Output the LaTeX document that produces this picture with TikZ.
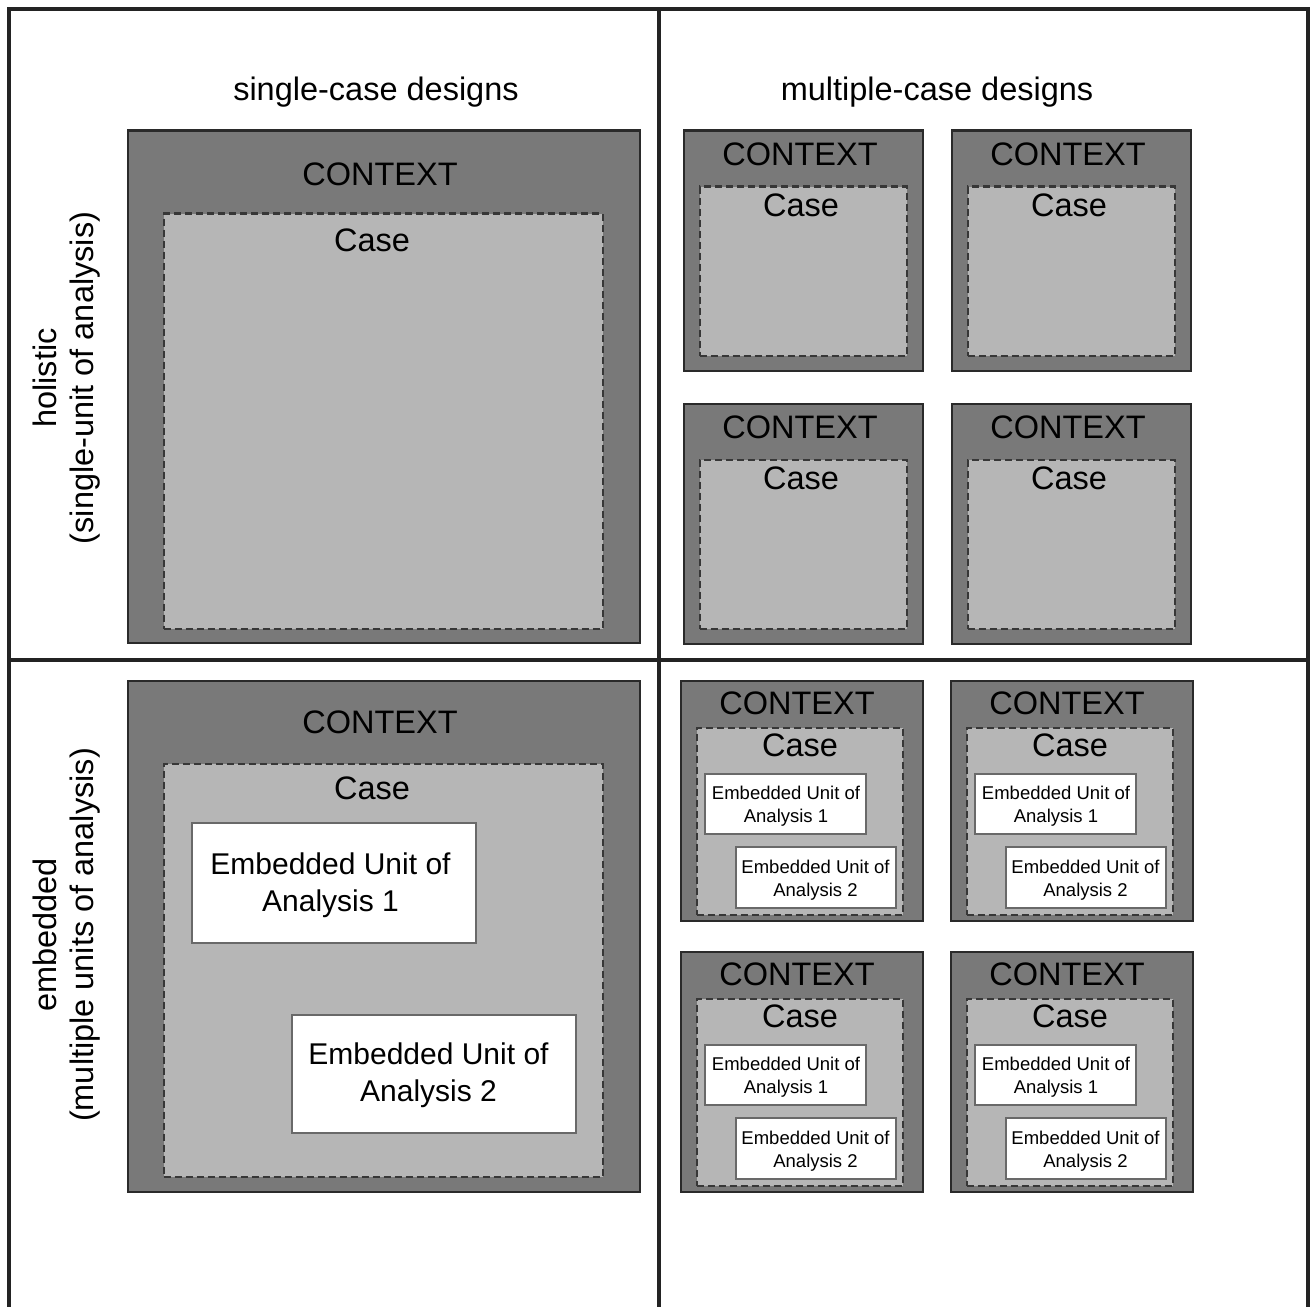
\documentclass[tikz,border=0pt]{standalone}
\usepackage{fontspec}
\setmainfont{Liberation Sans}
\definecolor{ctxfill}{RGB}{121,121,121}
\definecolor{casefill}{RGB}{182,182,182}
\definecolor{edge}{RGB}{42,42,42}
\definecolor{dashedge}{RGB}{55,55,55}
\definecolor{unitedge}{RGB}{105,105,105}
\definecolor{rulecol}{RGB}{35,35,35}

\tikzset{
  ctxbox/.style={draw=edge, fill=ctxfill, line width=2.5bp, anchor=north west, inner sep=0pt},
  casebox/.style={draw=dashedge, fill=casefill, line width=2.2bp, dash pattern=on 7bp off 4bp, anchor=north west, inner sep=0pt},
  unitbox/.style={draw=unitedge, fill=white, line width=2bp, anchor=north west, inner sep=0pt},
  bigtxt/.style={font=\fontsize{32.5bp}{37bp}\selectfont, inner sep=0pt},
  unitbig/.style={font=\fontsize{30bp}{37bp}\selectfont, align=center, inner sep=0pt},
  unitsmall/.style={font=\fontsize{18.5bp}{23bp}\selectfont, align=center, inner sep=0pt},
  rulestyle/.style={draw=rulecol, line width=3.6bp},
}

% one small holistic case: context frame with a single case
\newcommand{\holcell}[3]{%
  \begin{scope}[shift={(#2,#3)}]
    \node[ctxbox, minimum width=239bp, minimum height=240bp] (#1-ctx) at (0.5,0.5) {};
    \node[casebox, minimum width=207bp, minimum height=169bp] (#1-case) at (16.5,56.5) {};
    \node[bigtxt] (#1-ctxlbl) at (118,25) {CONTEXT};
    \node[bigtxt] (#1-caselbl) at (119,76) {Case};
  \end{scope}}

% one small embedded case: context frame, case and two embedded units
\newcommand{\embcell}[3]{%
  \begin{scope}[shift={(#2,#3)}]
    \node[ctxbox, minimum width=242bp, minimum height=240bp] (#1-ctx) at (0.5,0.5) {};
    \node[casebox, minimum width=206bp, minimum height=187bp] (#1-case) at (16.5,47.5) {};
    \node[bigtxt] (#1-ctxlbl) at (118,24) {CONTEXT};
    \node[bigtxt] (#1-caselbl) at (121,66) {Case};
    \node[unitbox, minimum width=161bp, minimum height=60bp] (#1-unit1) at (24.5,93.5) {};
    \node[unitbox, minimum width=160bp, minimum height=61bp] (#1-unit2) at (55.5,166.5) {};
    \node[unitsmall] (#1-unit1lbl) at ([xshift=1bp, yshift=-3bp]#1-unit1.center) {Embedded Unit of\\Analysis 1};
    \node[unitsmall] (#1-unit2lbl) at ([yshift=-3bp]#1-unit2.center) {Embedded Unit of\\Analysis 2};
  \end{scope}}

\begin{document}
\begin{tikzpicture}[x=1bp, y=-1bp]
  \useasboundingbox (0,0) rectangle (1310,1307);

  % frame and quadrant dividers
  \coordinate (fbl) at (9,1307);
  \coordinate (ftl) at (9,9);
  \coordinate (ftr) at (1308,9);
  \coordinate (fbr) at (1308,1307);
  \coordinate (vtop) at (659,9);
  \coordinate (vbot) at (659,1307);
  \coordinate (hleft) at (9,660);
  \coordinate (hright) at (1308,660);
  \draw[rulestyle] (fbl) -- (ftl) -- (ftr) -- (fbr);
  \draw[rulestyle] (vtop) -- (vbot);
  \draw[rulestyle] (hleft) -- (hright);

  % column and row headings
  \node[bigtxt, anchor=base] (hdr-single) at (376,101) {single-case designs};
  \node[bigtxt, anchor=base] (hdr-multi) at (937,101) {multiple-case designs};
  \node[bigtxt, rotate=90, align=center] (row-holistic) at (67,378) {holistic\\(single-unit of analysis)};
  \node[bigtxt, rotate=90, align=center] (row-embedded) at (67,935) {embedded\\(multiple units of analysis)};

  % single-case holistic
  \node[ctxbox, minimum width=512bp, minimum height=512bp] (sh-ctx) at (126.5,129.5) {};
  \node[casebox, minimum width=439bp, minimum height=415bp] (sh-case) at (162.5,212.5) {};
  \node[bigtxt] (sh-ctxlbl) at (380,174) {CONTEXT};
  \node[bigtxt] (sh-caselbl) at (372,240) {Case};

  % single-case embedded
  \node[ctxbox, minimum width=512bp, minimum height=511bp] (se-ctx) at (126.5,679.5) {};
  \node[casebox, minimum width=439bp, minimum height=413bp] (se-case) at (162.5,762.5) {};
  \node[bigtxt] (se-ctxlbl) at (380,722) {CONTEXT};
  \node[bigtxt] (se-caselbl) at (372,788) {Case};
  \node[unitbox, minimum width=284bp, minimum height=120bp] (se-unit1) at (190.5,821.5) {};
  \node[unitbox, minimum width=284bp, minimum height=118bp] (se-unit2) at (290.5,1013.5) {};
  \node[unitbig] (se-unit1lbl) at ([xshift=-3bp, yshift=-3bp]se-unit1.center) {Embedded Unit of\\Analysis 1};
  \node[unitbig] (se-unit2lbl) at ([xshift=-5bp, yshift=-2bp]se-unit2.center) {Embedded Unit of\\Analysis 2};

  % multiple-case holistic
  \holcell{mh1}{682}{129}
  \holcell{mh2}{950}{129}
  \holcell{mh3}{682}{402}
  \holcell{mh4}{950}{402}

  % multiple-case embedded
  \embcell{me1}{679}{679}
  \embcell{me2}{949}{679}
  \embcell{me3}{679}{950}
  \embcell{me4}{949}{950}
\end{tikzpicture}
\end{document}
